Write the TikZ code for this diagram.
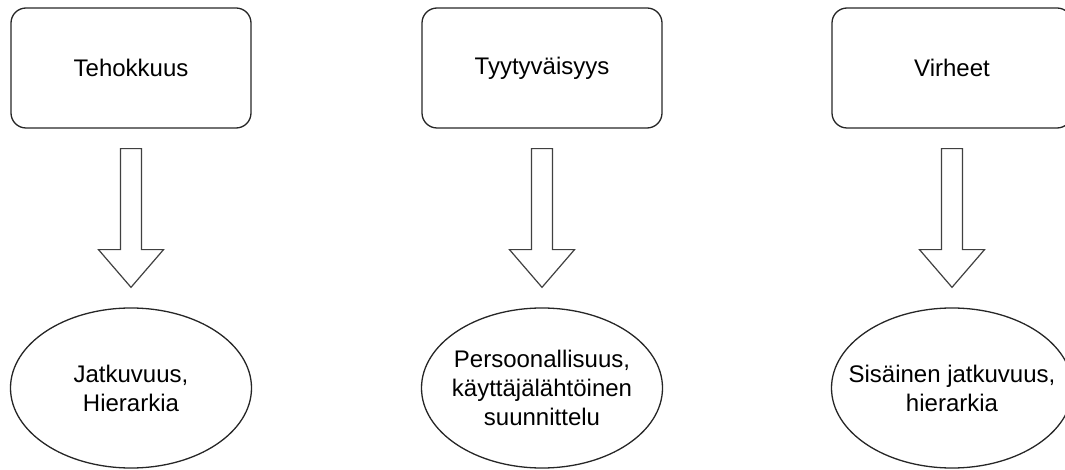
\documentclass[tikz,border=0pt]{standalone}
\usepackage{fontspec}
\setmainfont{Liberation Sans}
\usetikzlibrary{shapes.geometric,calc}
\begin{document}
\begin{tikzpicture}[x=1pt,y=1pt,
  topbox/.style={draw=black!85,line width=1.3pt,rounded corners=15pt,minimum width=240pt,minimum height=120pt,inner sep=0pt,font=\fontsize{24}{29}\selectfont,align=center},
  bottomell/.style={ellipse,draw=black!85,line width=1.3pt,minimum width=241pt,minimum height=160pt,inner sep=0pt},
  elltext/.style={inner sep=0pt,font=\fontsize{24}{29}\selectfont,align=center},
  blockarrow/.style={draw=black!75,line width=1.2pt,fill=white,line join=miter}]
\useasboundingbox (0,0) rectangle (1065,-470);
\clip (0,0) rectangle (1065,-470);
\node[topbox] (b1) at (131,-68) {Tehokkuus};
\node[topbox] (b2) at (542,-68) {Tyytyväisyys};
\node[topbox] (b3) at (952,-68) {Virheet};
\node[bottomell] (e1) at (131,-388) {};
\node[bottomell] (e2) at (542,-388) {};
\node[bottomell] (e3) at (952,-388) {};
\node[elltext] (t1) at (e1.center) {Jatkuvuus,\\Hierarkia};
\node[elltext] (t2) at (e2.center) {Persoonallisuus,\\käyttäjälähtöinen\\suunnittelu};
\node[elltext] (t3) at (e3.center) {Sisäinen jatkuvuus,\\hierarkia};
\foreach \b/\e in {b1/e1,b2/e2,b3/e3}{
  \draw[blockarrow] ($(\b.south)+(-10.5,-20)$) -- ($(\b.south)+(10.5,-20)$)
    -- ($(\b.south)+(10.5,-121)$) -- ($(\b.south)+(32.5,-121)$)
    -- ($(\e.north)+(0,20)$) -- ($(\b.south)+(-32.5,-121)$)
    -- ($(\b.south)+(-10.5,-121)$) -- cycle;
}
\end{tikzpicture}
\end{document}
